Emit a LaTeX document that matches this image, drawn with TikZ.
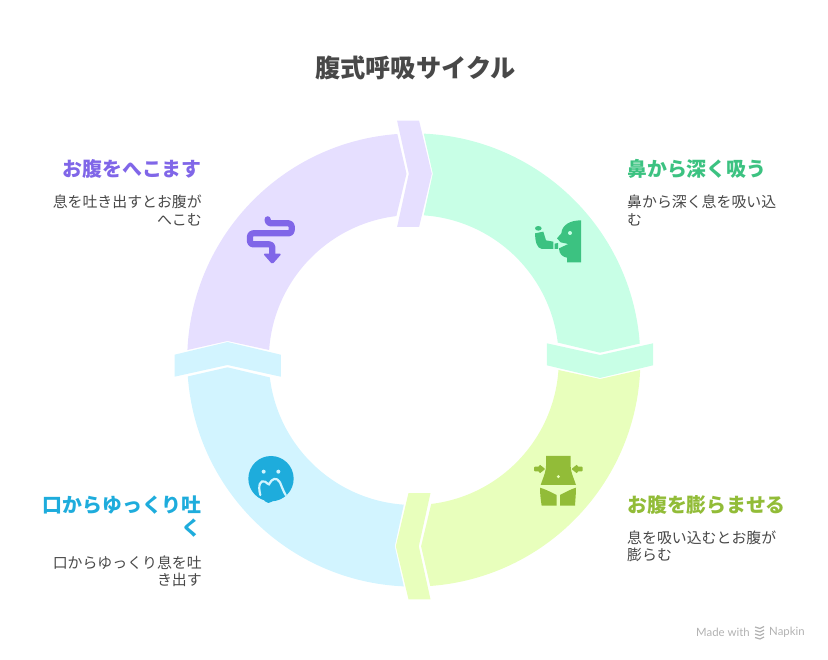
\documentclass[tikz,border=0pt]{standalone}
\usepackage{fontspec}
\setmainfont{Noto Sans CJK JP}
\newfontfamily\footfont{Lato}
\definecolor{greenfill}{HTML}{C8FFE6}
\definecolor{yellowfill}{HTML}{E8FFBC}
\definecolor{bluefill}{HTML}{D2F4FF}
\definecolor{purplefill}{HTML}{E6DFFF}
\definecolor{greenink}{HTML}{3CC281}
\definecolor{yellowink}{HTML}{92BC38}
\definecolor{blueink}{HTML}{1EACDC}
\definecolor{purpleink}{HTML}{8066E8}
\definecolor{textink}{HTML}{484848}
\begin{document}
\begin{tikzpicture}[
        x=1pt, y=-1pt,
        titletext/.style={font=\fontsize{25.2}{30}\selectfont\bfseries, text=textink, inner sep=0pt},
        headleft/.style={font=\fontsize{19.9}{23}\selectfont\bfseries, inner sep=0pt, anchor=east, align=right},
        headright/.style={font=\fontsize{19.9}{23}\selectfont\bfseries, inner sep=0pt, anchor=west, align=left},
        bodyleft/.style={font=\fontsize{14.9}{17.5}\selectfont, text=textink, inner sep=0pt, anchor=east, align=right},
        bodyright/.style={font=\fontsize{14.9}{17.5}\selectfont, text=textink, inner sep=0pt, anchor=west, align=left},
        footnote/.style={font=\fontsize{11.4}{13}\selectfont\footfont, text=black!30, inner sep=0pt, anchor=west}
    ]
        \useasboundingbox (0,0) rectangle (828,660);

        % Ring parts
        \foreach \a/\c in {0/greenfill, -90/yellowfill, -180/bluefill, -270/purplefill} {
            \begin{scope}[shift={(413.8,360)}, rotate=\a, y=1pt]
                \fill[\c] (87.47:226.6) arc[start angle=87.47, end angle=4.16, radius=226.6]
                    -- (186.3,7.3) -- (6.9:145) arc[start angle=6.9, end angle=86.05, radius=145]
                    -- (19,186.3) -- cycle;
                \fill[\c] (133,16.7) -- (186.3,5) -- (239.3,16.7) -- (239.3,-5.3)
                    -- (186.3,-18) -- (133,-5.3) -- cycle;
            \end{scope}
        }

        % Title
        \node[titletext] (title) at (415.5,67.5) {腹式呼吸サイクル};

        % Labels
        \node[headright, text=greenink] (inhalehead) at (627,169) {鼻から深く吸う};
        \node[bodyright] (inhalebody) at (627,210.5) {鼻から深く息を吸い込\\む};
        \node[headright, text=yellowink] (bellyhead) at (627,505) {お腹を膨らませる};
        \node[bodyright] (bellybody) at (627,546.5) {息を吸い込むとお腹が\\膨らむ};
        \node[headleft, text=blueink] (exhalehead) at (202,517) {口からゆっくり吐\\く};
        \node[bodyleft] (exhalebody) at (202,571.5) {口からゆっくり息を吐\\き出す};
        \node[headleft, text=purpleink] (flathead) at (202,169) {お腹をへこます};
        \node[bodyleft] (flatbody) at (202,210.5) {息を吐き出すとお腹が\\へこむ};

        % Face with inhaler
        \begin{scope}[shift={(520,205)}, x=1pt/3, y=-1pt/3]
            \fill[greenink] (183,46) .. controls (150,46) and (126,60) .. (124,85) -- (111,100)
                -- (122,112) -- (145,117) -- (117,130) .. controls (117,147) and (128,156) .. (141,158)
                -- (141,172) -- (183,172) -- cycle;
            \fill[greenfill] (150,84) circle[radius=6];
            \fill[greenink] (45,85) -- (70,80) -- (78,106) -- (100,110) -- (100,132) -- (66,132)
                .. controls (50,130) and (46,110) .. (45,85) -- cycle;
            \fill[greenink] (55,70) ellipse[x radius=10, y radius=7];
            \fill[greenink] (104,116) -- (114,114) -- (114,132) -- (104,132) -- cycle;
        \end{scope}

        % Waist
        \begin{scope}[shift={(520,445)}, x=1pt/3, y=-1pt/3]
            \fill[yellowink] (78,33) -- (152,33) -- (152,50) .. controls (150,80) and (160,95) .. (168,120)
                -- (62,120) .. controls (70,95) and (80,80) .. (78,50) -- cycle;
            \fill[yellowfill] (115,95) circle[radius=5];
            \fill[yellowink] (60,128) .. controls (75,132) and (100,145) .. (110,150) -- (110,182) -- (65,182)
                .. controls (62,165) and (60,145) .. (60,128) -- cycle;
            \fill[yellowink] (168,128) .. controls (153,132) and (130,145) .. (120,150) -- (120,182) -- (165,182)
                .. controls (166,165) and (168,145) .. (168,128) -- cycle;
            \fill[yellowink, rounded corners=1pt] (42,65) -- (58,65) -- (58,58) -- (76,72) -- (58,86) -- (58,79) -- (42,79) -- cycle;
            \fill[yellowink, rounded corners=1pt] (188,65) -- (172,65) -- (172,58) -- (154,72) -- (172,86) -- (172,79) -- (188,79) -- cycle;
        \end{scope}

        % Face with hand
        \begin{scope}[shift={(235,445)}, x=1pt/3, y=-1pt/3]
            \fill[blueink] (108,101) circle[radius=68];
            \fill[bluefill] (86,80) circle[radius=6];
            \fill[bluefill] (130,80) circle[radius=6];
            \fill[blueink] (80,125) -- (100,122) -- (132,118) .. controls (142,140) and (125,168) .. (100,174)
                .. controls (85,172) and (76,150) .. (80,125) -- cycle;
            \draw[bluefill, line width=2.2pt, line cap=round] (76,150) .. controls (68,120) and (76,104) .. (90,110)
                .. controls (96,114) and (99,118) .. (102,118) .. controls (110,100) and (125,95) .. (135,112)
                .. controls (140,125) and (146,140) .. (152,150);
        \end{scope}

        % Winding arrow
        \begin{scope}[shift={(235,205)}, x=1pt/3, y=-1pt/3]
            \draw[purpleink, line width=6.2pt, line cap=round, line join=round, rounded corners=3pt]
                (98,43) -- (98,55) -- (170,55) -- (170,85) -- (45,85) -- (45,118) -- (112,118) -- (112,150);
            \fill[purpleink, rounded corners=1.5pt] (84,146) -- (140,146) -- (112,178) -- cycle;
        \end{scope}

        % Footer
        \node[footnote] (madewith) at (696,632) {Made with};
        \node[footnote] (napkin) at (769,632) {Napkin};
        \foreach \y in {627,630.5,634,637.5}
            \draw[black!30, line width=1.2pt] (755,\y) -- (760,\y+1.5) -- (764,\y-.5);
\end{tikzpicture}
\end{document}
